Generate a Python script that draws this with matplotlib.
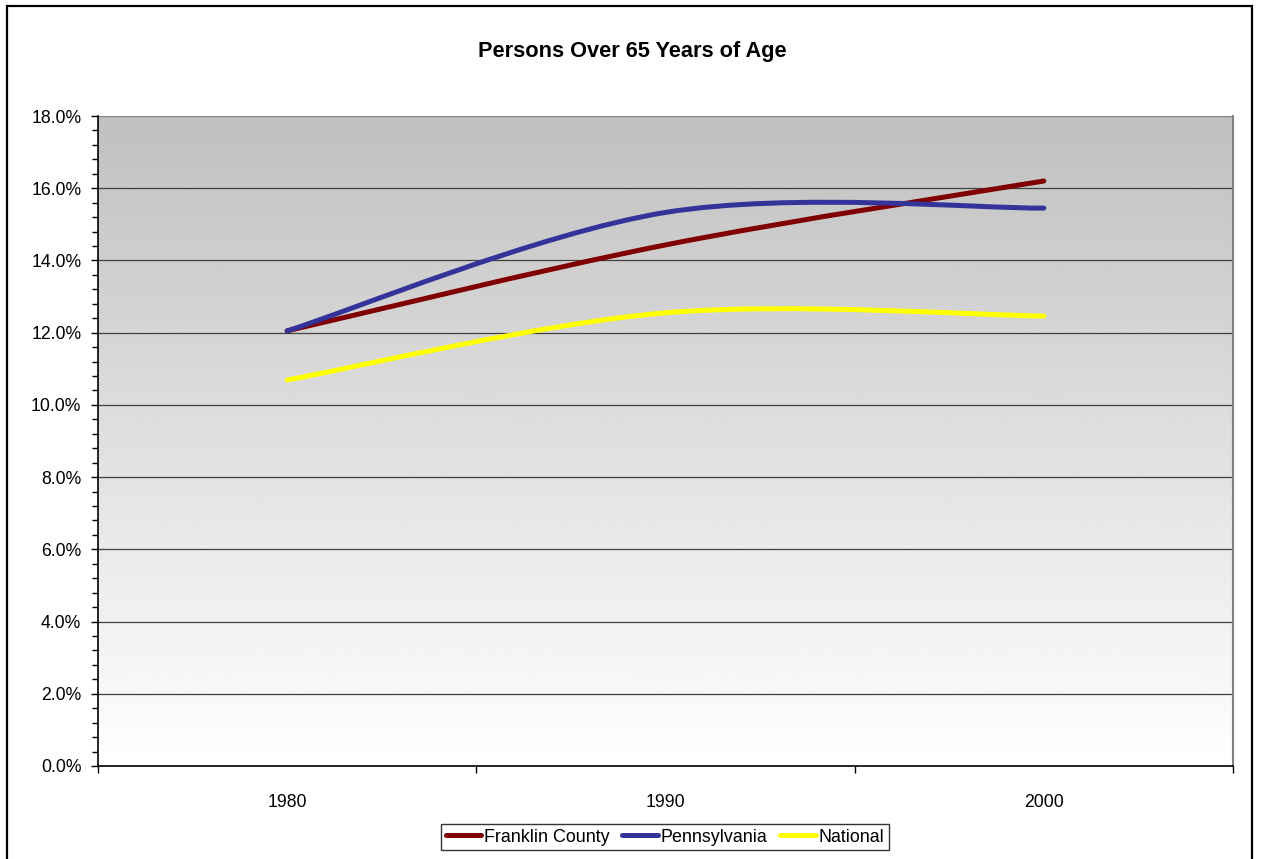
import numpy as np
from matplotlib import pyplot as plt
from matplotlib.path import Path
from matplotlib.patches import PathPatch, Rectangle
from matplotlib.lines import Line2D
from matplotlib.ticker import FuncFormatter, MultipleLocator, FixedLocator

years = ['1980', '1990', '2000']
franklin = [12.05, 14.43, 16.2]
pennsylvania = [12.05, 15.33, 15.45]
national = [10.69, 12.55, 12.46]

series_names = ['Franklin County', 'Pennsylvania', 'National']
series_colors = ['#800000', '#333399', '#FFFF00']


def smooth_path(xs, ys):
    # Excel style smoothed line: Catmull-Rom segments as cubic Beziers
    pts = np.column_stack([xs, ys]).astype(float)
    ext = np.vstack([pts[0], pts, pts[-1]])
    verts = [pts[0]]
    codes = [Path.MOVETO]
    for i in range(len(pts) - 1):
        p0, p1, p2, p3 = ext[i], ext[i + 1], ext[i + 2], ext[i + 3]
        c1 = p1 + (p2 - p0) / 6
        c2 = p2 - (p3 - p1) / 6
        verts += [c1, c2, p2]
        codes += [Path.CURVE4] * 3
    return Path(verts, codes)


def main():
    plt.rcParams['font.family'] = ['Liberation Sans', 'DejaVu Sans']

    fig = plt.figure(figsize=(12.61, 8.59), dpi=100)
    ax = fig.add_axes([98 / 1261, 93 / 859, 1135 / 1261, 650 / 859])

    x = np.arange(len(years))
    ax.set_xlim(-0.5, 2.5)

    # gradient background (gray at top, white at bottom)
    grad = np.linspace(192, 255, 256)[:, None] / 255.0
    grad = np.repeat(grad, 2, axis=1)
    ax.imshow(grad, cmap='gray', vmin=0, vmax=1, aspect='auto',
              extent=(-0.5, 2.5, 0, 18), origin='upper', zorder=0)
    ax.set_ylim(0, 18)

    for yv in range(2, 19, 2):
        ax.axhline(yv, color='#404040' if yv < 18 else '#808080', lw=0.9, zorder=1)

    for vals, color in zip([franklin, pennsylvania, national], series_colors):
        patch = PathPatch(smooth_path(x, vals), facecolor='none', edgecolor=color,
                          lw=3.6, capstyle='round', joinstyle='round', zorder=3)
        ax.add_patch(patch)

    # axes styling
    ax.spines['top'].set_visible(False)
    ax.spines['right'].set_color('#808080')
    ax.spines['right'].set_linewidth(1.5)
    ax.spines['left'].set_color('black')
    ax.spines['bottom'].set_color('black')
    ax.spines['left'].set_linewidth(1.2)
    ax.spines['bottom'].set_linewidth(1.2)

    ax.yaxis.set_major_locator(MultipleLocator(2))
    ax.yaxis.set_minor_locator(MultipleLocator(0.4))
    ax.yaxis.set_major_formatter(FuncFormatter(lambda v, p: f'{v:.1f}%'))
    ax.tick_params(axis='y', which='major', length=5, width=1, pad=7,
                   labelsize=12.7, direction='out')
    ax.tick_params(axis='y', which='minor', length=4, width=1, direction='out')

    ax.xaxis.set_major_locator(FixedLocator([-0.5, 0.5, 1.5, 2.5]))
    ax.xaxis.set_minor_locator(FixedLocator(x))
    ax.set_xticklabels([], minor=False)
    ax.set_xticklabels(years, minor=True)
    ax.tick_params(axis='x', which='major', length=5, width=1, direction='out')
    ax.tick_params(axis='x', which='minor', length=0, pad=20, labelsize=12.7)

    fig.text(632 / 1261, 1 - 51 / 859, 'Persons Over 65 Years of Age',
             ha='center', va='center', fontsize=15.7, fontweight='bold')

    handles = [Line2D([], [], color=c, lw=3.6, solid_capstyle='round') for c in series_colors]
    leg = fig.legend(handles, series_names, loc='center', ncol=3,
                     bbox_to_anchor=(665 / 1261, 1 - 837 / 859),
                     fontsize=12.9, frameon=True, fancybox=False,
                     handlelength=2.0, handletextpad=0.15, columnspacing=0.7,
                     borderpad=0.25, borderaxespad=0)
    leg.get_frame().set_edgecolor('black')
    leg.get_frame().set_linewidth(1)

    # outer chart border
    fig.patches.append(Rectangle((7 / 1261, -0.02), 1245 / 1261, 1 - 6 / 859 + 0.02,
                                 transform=fig.transFigure, fill=False,
                                 edgecolor='black', lw=1.6))

    fig.savefig('out.png', dpi=100)


if __name__ == "__main__":
    main()
